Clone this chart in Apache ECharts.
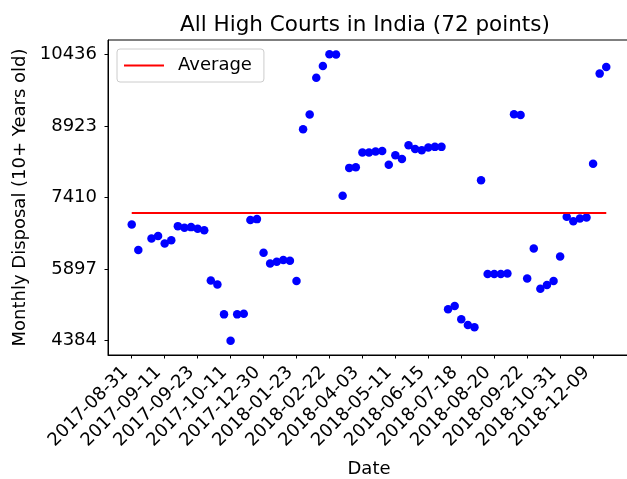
<!DOCTYPE html>
<html>
<head>
<meta charset="utf-8">
<script src="https://cdn.jsdelivr.net/npm/echarts@6/dist/echarts.min.js"></script>
<style>
html,body{margin:0;padding:0;background:#fff;}
#chart{width:627px;height:479px;}
</style>
</head>
<body>
<div id="chart"></div>
<script>
// x tick labels (every 5th position)
const tickPositions = [0,5,10,15,20,25,30,35,40,45,50,55,60,65,70];
const tickLabels = ['2017-08-31','2017-09-11','2017-09-23','2017-10-11','2017-12-30','2018-01-23','2018-02-22','2018-04-03','2018-05-11','2018-06-15','2018-07-18','2018-08-20','2018-09-22','2018-10-31','2018-12-09'];
const yTicks = [4384, 5897, 7410, 8923, 10436];

// point positions along the x axis (position 2 has no point)
const pointPos = [0,1,3,4,5,6,7,8,9,10,11,12,13,14,15,16,17,18,19,20,21,22,23,24,25,
  26,27,28,29,30,31,32,33,34,35,36,37,38,39,40,41,42,43,44,45,46,47,48,49,50,51,52,53,
  54,55,56,57,58,59,60,61,62,63,64,65,66,67,68,69,70,71,72];
// monthly disposal values
const disposal = [6840,6298,6545,6594,6439,6509,6805,6770,6784,6749,6720,5658,5573,4940,4384,4940,4954,6932,6953,6242,6017,6052,6087,6073,5644,
  8853,9162,9943,10190,10436,10430,7445,8036,8050,8360,8360,8381,8395,8100,8304,8226,8515,8437,8409,8466,8480,8480,5046,5116,4835,4715,4666,7776,
  5792,5792,5792,5806,9169,9155,5700,6333,5482,5559,5644,6165,7002,6910,6967,6988,8121,10028,10169];
const averageValue = 7080;
const averageSpan = [0, 72];

const FONT = 'DejaVu Sans';
const chart = echarts.init(document.getElementById('chart'), null, {renderer: 'canvas'});
const scatterData = pointPos.map((p, i) => [p, disposal[i]]);
const labelMap = {};
tickPositions.forEach((p, i) => { labelMap[p] = tickLabels[i]; });

chart.setOption({
  animation: false,
  backgroundColor: '#fff',
  title: {
    text: 'All High Courts in India (72 points)',
    left: 175, top: 9,
    textStyle: {fontFamily: FONT, fontSize: 21.5, fontWeight: 'normal', color: '#000'}
  },
  legend: {
    data: [{name: 'Average', icon: 'rect'}],
    left: 117, top: 49,
    orient: 'vertical',
    itemWidth: 40, itemHeight: 2,
    padding: [7, 12, 7, 7],
    backgroundColor: 'rgba(255,255,255,0.8)',
    borderColor: '#cccccc', borderWidth: 1, borderRadius: 3,
    textStyle: {fontFamily: FONT, fontSize: 18, color: '#000', lineHeight: 19, padding: [0,0,0,9]}
  },
  grid: {
    left: 108, top: 40, width: 522, height: 315,
    show: true, borderColor: '#000', borderWidth: 1,
    containLabel: false, outerBoundsMode: 'none'
  },
  xAxis: {
    type: 'value', min: -3.6, max: 75.6,
    name: 'Date', nameLocation: 'middle', nameGap: 105,
    nameTextStyle: {fontFamily: FONT, fontSize: 18, color: '#000'},
    splitLine: {show: false},
    axisLine: {show: true, onZero: false, lineStyle: {color: '#000', width: 1}},
    axisTick: {show: true, length: 3.5, lineStyle: {color: '#000'}, customValues: tickPositions},
    axisLabel: {
      customValues: tickPositions,
      rotate: 45, margin: 21, verticalAlign: 'bottom',
      fontFamily: FONT, fontSize: 18, color: '#000',
      formatter: v => labelMap[v] !== undefined ? labelMap[v] : ''
    }
  },
  yAxis: {
    type: 'value', min: 4081.4, max: 10738.6,
    name: 'Monthly Disposal (10+ Years old)', nameLocation: 'middle', nameGap: 78, nameRotate: 90,
    nameTextStyle: {fontFamily: FONT, fontSize: 18, color: '#000'},
    splitLine: {show: false},
    axisLine: {show: true, onZero: false, lineStyle: {color: '#000', width: 1}},
    axisTick: {show: true, length: 3.5, lineStyle: {color: '#000'}, customValues: yTicks},
    axisLabel: {customValues: yTicks, margin: 11, fontFamily: FONT, fontSize: 18, color: '#000',
      formatter: v => String(Math.round(v))}
  },
  series: [
    {
      type: 'scatter', name: 'points', data: scatterData,
      symbol: 'circle', symbolSize: 8.5,
      itemStyle: {color: '#0000ff', opacity: 1}
    },
    {
      type: 'line', name: 'Average',
      data: averageSpan.map(x => [x, averageValue]),
      symbol: 'none', lineStyle: {color: '#ff0000', width: 2}, itemStyle: {color: '#ff0000'},
      z: 3
    }
  ]
});
</script>
</body>
</html>
